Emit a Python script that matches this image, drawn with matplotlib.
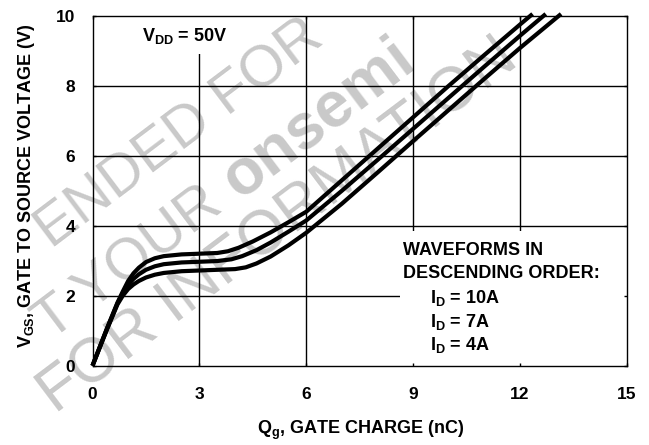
import matplotlib
matplotlib.use("Agg")
import matplotlib.pyplot as plt
from matplotlib.patches import Rectangle

plt.rcParams['font.family'] = ['Liberation Sans', 'DejaVu Sans']
plt.rcParams['font.weight'] = 'bold'
plt.rcParams['mathtext.fontset'] = 'custom'
plt.rcParams['mathtext.rm'] = 'Liberation Sans:bold'
plt.rcParams['mathtext.it'] = 'Liberation Sans:bold'
plt.rcParams['mathtext.bf'] = 'Liberation Sans:bold'
plt.rcParams['mathtext.default'] = 'rm'

# ---- data ----
qg_10A = [0, 0.4, 0.7, 0.85, 1.0, 1.15, 1.3, 1.5, 1.75, 2.0, 2.5, 3.0, 3.5, 3.8, 4.1, 4.5, 5.0, 5.5,
          6.0, 7.0, 8.0, 9.0, 10.0, 11.0, 12.0, 12.35]
vgs_10A = [0, 1.05, 1.8, 2.12, 2.42, 2.64, 2.8, 2.96, 3.07, 3.13, 3.18, 3.2, 3.22, 3.27, 3.37, 3.55, 3.81, 4.1,
           4.4, 5.3, 6.2, 7.1, 8.0, 8.88, 9.75, 10.05]

qg_7A = [0, 0.4, 0.7, 0.85, 1.0, 1.15, 1.3, 1.5, 1.75, 2.0, 2.5, 3.0, 3.5, 3.9, 4.2, 4.6, 5.0, 5.5,
         6.0, 7.0, 8.0, 9.0, 10.0, 11.0, 12.0, 12.72]
vgs_7A = [0, 1.04, 1.78, 2.07, 2.31, 2.48, 2.61, 2.74, 2.84, 2.9, 2.95, 2.97, 2.99, 3.04, 3.13, 3.3, 3.52, 3.83,
          4.15, 5.0, 5.88, 6.77, 7.66, 8.55, 9.43, 10.05]

qg_4A = [0, 0.4, 0.7, 0.85, 1.0, 1.15, 1.3, 1.5, 1.75, 2.0, 2.5, 3.0, 3.5, 4.0, 4.3, 4.6, 5.0, 5.5,
         6.0, 7.0, 8.0, 9.0, 10.0, 11.0, 12.0, 13.15]
vgs_4A = [0, 1.02, 1.75, 2.0, 2.19, 2.32, 2.42, 2.52, 2.6, 2.65, 2.7, 2.72, 2.74, 2.76, 2.81, 2.92, 3.12, 3.44,
          3.8, 4.63, 5.52, 6.42, 7.31, 8.2, 9.08, 10.05]

x_ticks = [0, 3, 6, 9, 12, 15]
y_ticks = [0, 2, 4, 6, 8, 10]
legend_lines = ["WAVEFORMS IN", "DESCENDING ORDER:"]
current_labels = [r"I$_{D}$ = 10A", r"I$_{D}$ = 7A", r"I$_{D}$ = 4A"]
# visible fragments of the diagonal watermark
watermark_lines = ["ENDED FOR", "T YOUR ", "onsemi", "FOR INFORMATION"]

# ---- figure ----
W, H = 649, 445
fig = plt.figure(figsize=(W / 100, H / 100), dpi=100)
ax = fig.add_axes([92.5 / W, 1 - 365.7 / H, 534.5 / W, 350 / H])
ax.set_xlim(x_ticks[0], x_ticks[-1])
ax.set_ylim(y_ticks[0], y_ticks[-1])
ax.set_axisbelow(False)
ax.patch.set_alpha(0)

# watermark (light grey, rotated), drawn underneath everything
wm_pos = [(52, 250), (51, 342), (239, 200), (56, 415)]
wm_size = [42, 42, 46, 45]
for txt, (px, py), fs in zip(watermark_lines, wm_pos, wm_size):
    ax.text(px / W, 1 - py / H, txt, rotation=37, rotation_mode='anchor',
            ha='left', va='baseline', fontsize=fs, color='#c9c9c9',
            fontweight=('bold' if txt == 'onsemi' else 'normal'),
            transform=fig.transFigure, clip_on=False, zorder=0.5)

# grid lines drawn manually (below white boxes)
for xv in x_ticks[1:-1]:
    ax.axvline(xv, color='black', lw=1.0, zorder=1)
for yv in y_ticks[1:-1]:
    ax.axhline(yv, color='black', lw=1.0, zorder=1)

for q, v in [(qg_10A, vgs_10A), (qg_7A, vgs_7A), (qg_4A, vgs_4A)]:
    ax.plot(q, v, color='black', lw=3.0, solid_joinstyle='round',
            solid_capstyle='butt', clip_on=False, zorder=3)

# annotation box (white, covers grid)
ax.add_patch(Rectangle((0.575, 0.0), 0.425, 0.385, transform=ax.transAxes,
                       facecolor='white', edgecolor='none', zorder=2))
ax.text(0.580, 0.316, legend_lines[0], transform=ax.transAxes, fontsize=13,
        fontweight='bold', ha='left', va='baseline', zorder=4)
ax.text(0.580, 0.250, legend_lines[1], transform=ax.transAxes, fontsize=13,
        fontweight='bold', ha='left', va='baseline', zorder=4)
for lbl, yy in zip(current_labels, [0.179, 0.110, 0.045]):
    ax.text(0.631, yy, lbl, transform=ax.transAxes, fontsize=13,
            fontweight='bold', ha='left', va='baseline', zorder=4)

ax.text(0.0926, 0.929, r"V$_{DD}$ = 50V", transform=ax.transAxes, fontsize=13,
        fontweight='bold', ha='left', va='baseline', zorder=4,
        bbox=dict(boxstyle='square,pad=0.45', facecolor='white', edgecolor='none'))

ax.set_xticks(x_ticks)
ax.set_yticks(y_ticks)
ax.set_xticklabels([str(t) for t in x_ticks])
ax.set_yticklabels([str(t) for t in y_ticks])
ax.tick_params(direction='in', length=2.5, width=1.0, top=True, right=True,
               labelsize=12.5, colors='black')
ax.tick_params(axis='x', pad=15)
ax.tick_params(axis='y', pad=12.5)
for lab in ax.get_xticklabels() + ax.get_yticklabels():
    lab.set_fontweight('bold')
for s in ax.spines.values():
    s.set_linewidth(1.0)
    s.set_zorder(5)

fig.text(360.5 / W, 1 - 434.5 / H, r"Q$_{g}$, GATE CHARGE (nC)", fontsize=13,
         fontweight='bold', ha='center', va='baseline')
fig.text(31.5 / W, 1 - 186 / H, r"V$_{GS}$, GATE TO SOURCE VOLTAGE (V)", fontsize=13,
         fontweight='bold', ha='center', va='baseline', rotation=90,
         rotation_mode='anchor')

fig.savefig("out.png", dpi=100)
